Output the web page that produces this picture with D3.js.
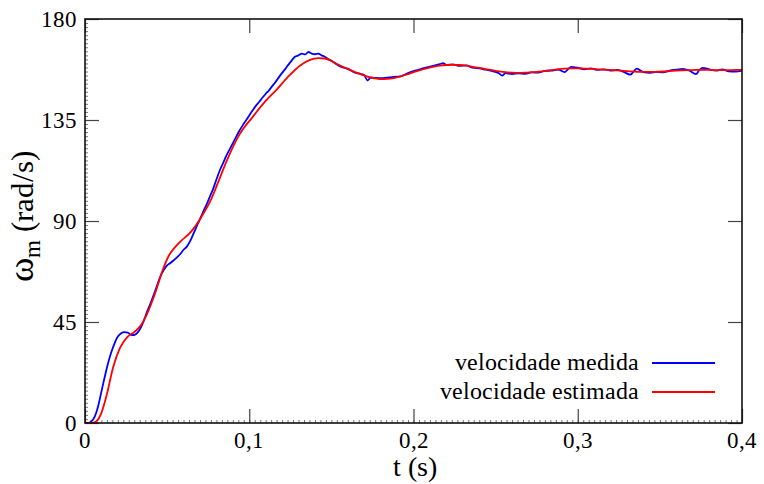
<!DOCTYPE html>
<html>
<head>
<meta charset="utf-8">
<script src="https://cdn.jsdelivr.net/npm/d3@7"></script>
<style>
  @font-face { font-family: "ChartSerif"; src: local("Liberation Serif"), local("LiberationSerif"), local("LiberationSerif-Regular"), local("Times New Roman"); }
  body { margin: 0; }
  svg text, svg tspan { font-family: "ChartSerif", "Liberation Serif", "Times New Roman", Tinos !important; }
</style>
</head>
<body>
<script>
// measured speed (blue)
const tMeasured = [0, 0.002, 0.004, 0.006, 0.008, 0.010, 0.012, 0.014, 0.016, 0.018, 0.020, 0.022, 0.024, 0.026, 0.028, 0.030,
  0.032, 0.034, 0.036, 0.038, 0.040, 0.042, 0.044, 0.046, 0.048, 0.050, 0.052, 0.054, 0.056, 0.058, 0.060, 0.062, 0.064,
  0.066, 0.068, 0.070, 0.072, 0.074, 0.076, 0.078, 0.080, 0.082, 0.084, 0.086, 0.088, 0.090, 0.092, 0.094, 0.096, 0.098,
  0.100, 0.102, 0.104, 0.106, 0.108, 0.110, 0.112, 0.114, 0.116, 0.118, 0.120, 0.122, 0.124, 0.126, 0.128, 0.130, 0.132,
  0.134, 0.136, 0.138, 0.140, 0.142, 0.144, 0.146, 0.148, 0.150, 0.152, 0.156, 0.160, 0.164, 0.168, 0.170, 0.172, 0.174,
  0.176, 0.180, 0.184, 0.188, 0.192, 0.196, 0.200, 0.204, 0.208, 0.212, 0.216, 0.218, 0.220, 0.224, 0.228, 0.232, 0.236,
  0.240, 0.244, 0.248, 0.252, 0.254, 0.256, 0.260, 0.264, 0.268, 0.272, 0.276, 0.280, 0.284, 0.288, 0.292, 0.294, 0.296,
  0.300, 0.304, 0.308, 0.312, 0.316, 0.320, 0.324, 0.328, 0.332, 0.334, 0.336, 0.340, 0.344, 0.348, 0.352, 0.356, 0.360,
  0.364, 0.368, 0.372, 0.374, 0.376, 0.380, 0.384, 0.388, 0.392, 0.396, 0.400];
const wMeasured = [0, 0, 0.8, 3, 7.5, 14, 20.5, 26.5, 31.5, 35.5, 38.5, 40, 40.5, 40.3, 39.3, 39.2,
  40.3, 42.5, 46, 50, 53.5, 57.5, 61.5, 65.5, 68.3, 70.2, 71.3, 72.5, 73.8, 75.3, 77.2, 78.6, 81,
  84.3, 87.6, 90.8, 94.2, 97.3, 100.8, 104.3, 108.5, 112.4, 115.7, 119, 121.8, 124.6, 127.5, 130.2, 132.6, 134.8,
  137, 139.2, 141.3, 143, 144.9, 146.6, 148.2, 150.1, 151.9, 154, 156, 157.8, 159.8, 161.7, 163.3, 163.8, 164.6,
  164.2, 165.3, 164.6, 164.3, 164.6, 163.8, 163.2, 162.2, 161.4, 160.4, 158.6, 157.9, 156.2, 155.5, 155.0, 152.6, 153.9,
  153.8, 153.6, 153.9, 154.2, 154.4, 155.7, 156.8, 157.6, 158.5, 159.1, 159.9, 160.3, 159.6, 159.8, 159.1, 159.3, 158.3,
  158.0, 157.4, 156.8, 155.8, 154.8, 155.9, 155.5, 155.8, 155.6, 156.2, 156.1, 156.9, 157.0, 157.5, 156.3, 157.6, 158.7,
  158.3, 157.6, 158.0, 157.3, 157.6, 157.0, 157.3, 156.4, 155.2, 156.6, 157.9, 156.3, 156.0, 156.4, 156.2, 157.0, 157.4,
  157.8, 157.0, 155.5, 157.2, 158.2, 157.6, 157.0, 157.5, 156.7, 156.6, 157.0];

// estimated speed (red)
const tEstimated = [0, 0.004, 0.007, 0.010, 0.0134, 0.017, 0.0213, 0.026, 0.030, 0.034, 0.038, 0.043, 0.0475, 0.051,
  0.055, 0.059, 0.063, 0.066, 0.071, 0.077, 0.082, 0.0864, 0.094, 0.102, 0.110, 0.117, 0.124, 0.131, 0.137, 0.142,
  0.146, 0.149, 0.152, 0.156, 0.160, 0.164, 0.168, 0.172, 0.176, 0.180, 0.184, 0.188, 0.192, 0.196, 0.200, 0.204,
  0.208, 0.212, 0.216, 0.220, 0.224, 0.228, 0.232, 0.236, 0.240, 0.244, 0.248, 0.252, 0.256, 0.260, 0.264, 0.268,
  0.272, 0.276, 0.280, 0.284, 0.288, 0.292, 0.296, 0.300, 0.304, 0.308, 0.312, 0.316, 0.320, 0.324, 0.328, 0.332,
  0.336, 0.340, 0.344, 0.348, 0.352, 0.356, 0.360, 0.364, 0.368, 0.372, 0.376, 0.380, 0.384, 0.388, 0.392, 0.396, 0.400];
const wEstimated = [0, 0, 0.8, 4.5, 13, 24.5, 33.5, 38.5, 40.5, 43.5, 49, 58.5, 68.5, 74.5,
  78.5, 81.5, 84, 86.5, 92, 100, 109, 117, 128.5, 136.3, 143.5, 148.8, 154.5, 159.3, 161.8, 162.6,
  162.4, 161.7, 160.5, 159, 157.7, 156.5, 155.3, 154.3, 153.6, 153.2, 153.3, 153.7, 154.4, 155.3, 156.3, 157.2,
  158, 158.7, 159.2, 159.5, 159.6, 159.5, 159.2, 158.7, 158.2, 157.7, 157.2, 156.7, 156.3, 156.1, 156, 156.1,
  156.3, 156.5, 156.8, 157.2, 157.6, 157.9, 158, 158, 157.9, 157.8, 157.6, 157.4, 157.3, 157.1, 156.9, 156.7,
  156.5, 156.4, 156.4, 156.5, 156.6, 156.8, 157, 157.1, 157.2, 157.3, 157.3, 157.3, 157.2, 157.2, 157.2, 157.3, 157.3];

const xTicks = [0, 0.1, 0.2, 0.3, 0.4];
const yTicks = [0, 45, 90, 135, 180];
const seriesNames = ["velocidade medida", "velocidade estimada"];
const seriesColors = ["#0000ff", "#ff0000"];

// set the dimensions and margins of the graph
const margin = {top: 19, right: 22, bottom: 61, left: 85},
  width = 764 - margin.left - margin.right,
  height = 484 - margin.top - margin.bottom;

const root = d3.select("body")
  .append("svg")
    .attr("width", 764)
    .attr("height", 484);
const svg = root.append("g")
    .attr("transform", `translate(${margin.left},${margin.top})`);

const x = d3.scaleLinear().domain([0, 0.4]).range([0, width]);
const y = d3.scaleLinear().domain([0, 180]).range([height, 0]);

const fmt = d => d3.format("~g")(d).replace(".", ",");

// minor ticks along bottom and left (no labels)
svg.append("g")
  .attr("transform", `translate(0,${height})`)
  .call(d3.axisTop(x).tickValues(d3.range(0, 0.4, 0.4 / 120)).tickSize(3).tickFormat(""))
  .call(g => g.select(".domain").remove())
  .call(g => g.selectAll("text").remove())
  .call(g => g.selectAll("line").attr("stroke", "#777"));
svg.append("g")
  .call(d3.axisRight(y).tickValues(d3.range(0, 180, 180 / 100)).tickSize(3).tickFormat(""))
  .call(g => g.select(".domain").remove())
  .call(g => g.selectAll("text").remove())
  .call(g => g.selectAll("line").attr("stroke", "#777"));

// major ticks on all four sides, pointing inward
const xBottom = svg.append("g")
  .attr("transform", `translate(0,${height})`)
  .call(d3.axisTop(x).tickValues(xTicks).tickSize(14).tickFormat(""));
const xTop = svg.append("g")
  .call(d3.axisBottom(x).tickValues(xTicks).tickSize(14).tickFormat(""));
const yLeft = svg.append("g")
  .call(d3.axisRight(y).tickValues(yTicks).tickSize(14).tickFormat(""));
const yRight = svg.append("g")
  .attr("transform", `translate(${width},0)`)
  .call(d3.axisLeft(y).tickValues(yTicks).tickSize(14).tickFormat(""));
[xBottom, xTop, yLeft, yRight].forEach(g => {
  g.select(".domain").remove();
  g.selectAll("text").remove();
  g.selectAll("line").attr("stroke", "#444").attr("stroke-width", 1.2);
});

// tick labels
svg.append("g").selectAll("text")
  .data(xTicks)
  .join("text")
    .attr("x", d => x(d))
    .attr("y", height + 25)
    .attr("text-anchor", "middle")
    .style("font-size", "23px")
    .text(fmt);
svg.append("g").selectAll("text")
  .data(yTicks)
  .join("text")
    .attr("x", -8)
    .attr("y", d => y(d) + 8)
    .attr("text-anchor", "end")
    .style("font-size", "23px")
    .text(fmt);

// lines
const series = [
  tMeasured.map((t, i) => [t, wMeasured[i]]),
  tEstimated.map((t, i) => [t, wEstimated[i]])
];
const line = d3.line().x(d => x(d[0])).y(d => y(d[1])).curve(d3.curveMonotoneX);
svg.append("g").selectAll("path")
  .data(series)
  .join("path")
    .attr("fill", "none")
    .attr("stroke", (d, i) => seriesColors[i])
    .attr("stroke-width", 1.8)
    .attr("d", line);

// frame
svg.append("rect")
  .attr("width", width)
  .attr("height", height)
  .attr("fill", "none")
  .attr("stroke", "#111")
  .attr("stroke-width", 1.6);

// legend
const legend = svg.append("g")
  .attr("transform", `translate(${554},${344})`);
legend.selectAll("text")
  .data(seriesNames)
  .join("text")
    .attr("x", 0)
    .attr("y", (d, i) => i * 29 + 7)
    .attr("text-anchor", "end")
    .style("font-size", "24px")
    .text(d => d);
legend.selectAll("line")
  .data(seriesNames)
  .join("line")
    .attr("x1", 13)
    .attr("x2", 76)
    .attr("y1", (d, i) => i * 29)
    .attr("y2", (d, i) => i * 29)
    .attr("stroke", (d, i) => seriesColors[i])
    .attr("stroke-width", 1.8);

// axis titles
svg.append("text")
  .attr("x", width / 2 + 1)
  .attr("y", height + 53)
  .attr("text-anchor", "middle")
  .style("font-size", "28px")
  .text("t (s)");

const yTitle = svg.append("text")
  .attr("transform", `translate(-52,${height / 2 - 5}) rotate(-90)`)
  .attr("text-anchor", "middle")
  .style("font-size", "31px");
yTitle.append("tspan").style("font-size", "37px").text("ω");
yTitle.append("tspan").attr("dy", 7).style("font-size", "23px").text("m");
yTitle.append("tspan").attr("dy", -7).text(" (rad/s)");
</script>
</body>
</html>
